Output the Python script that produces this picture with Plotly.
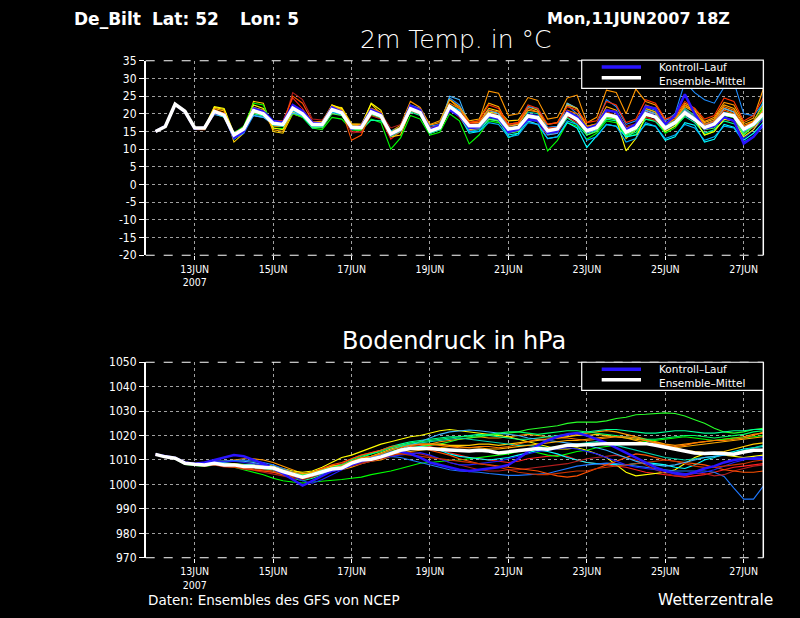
import pandas as pd
import plotly.graph_objects as go

# ---------------- data ----------------
TIMES = pd.date_range("2007-06-12 00:00", periods=63, freq="6h")
X_RANGE = ["2007-06-11 18:00", "2007-06-27 12:00"]
X_TICKS = ["2007-06-13", "2007-06-15", "2007-06-17", "2007-06-19",
           "2007-06-21", "2007-06-23", "2007-06-25", "2007-06-27"]
X_TICK_TEXT = ["13JUN<br>2007", "15JUN", "17JUN", "19JUN",
               "21JUN", "23JUN", "25JUN", "27JUN"]
T_TICKS = [-20, -15, -10, -5, 0, 5, 10, 15, 20, 25, 30, 35]
P_TICKS = [970, 980, 990, 1000, 1010, 1020, 1030, 1040, 1050]

# 2m temperature (deg C), 6-hourly from 12JUN 00Z to 27JUN 12Z
T_MEAN = [15.0, 16.4, 22.7, 20.7, 16.0, 16.0, 20.7, 19.6, 14.0, 15.7, 20.9, 20.0,
          17.3, 17.0, 21.6, 20.0, 17.0, 17.0, 21.2, 20.3, 16.1, 16.1, 20.5, 19.4,
          14.3, 15.7, 21.4, 20.3, 15.1, 16.1, 22.1, 20.0, 16.6, 16.6, 19.8, 19.1,
          15.7, 16.1, 19.4, 18.9, 15.2, 15.7, 20.0, 18.4, 15.2, 16.1, 19.8, 19.1,
          14.8, 16.1, 20.0, 19.1, 16.0, 17.5, 20.3, 18.4, 16.1, 17.1, 20.0, 19.4,
          15.7, 17.1, 20.0]
T_CTRL = [15.0, 16.5, 22.6, 20.6, 15.8, 16.1, 20.3, 19.8, 13.2, 15.0, 21.5, 20.6,
          17.8, 17.5, 22.5, 20.8, 17.5, 17.2, 21.8, 20.5, 15.8, 16.5, 21.2, 19.8,
          14.0, 15.5, 22.3, 21.0, 15.5, 16.8, 21.0, 19.5, 16.0, 16.2, 19.5, 18.6,
          14.8, 15.6, 18.4, 18.0, 14.6, 15.0, 20.6, 19.2, 15.8, 16.8, 21.0, 20.5,
          15.5, 17.0, 22.0, 21.5, 17.0, 19.5, 25.5, 20.0, 15.8, 16.5, 19.0, 18.0,
          11.6, 13.5, 17.0]
T01 = [15.0, 16.4, 22.8, 20.8, 16.1, 16.2, 21.0, 20.1, 14.3, 16.2, 21.5, 20.8,
       18.0, 18.0, 24.5, 21.5, 17.2, 17.6, 21.0, 20.0, 15.0, 14.8, 19.5, 18.5,
       12.8, 15.0, 20.8, 19.6, 16.0, 17.0, 21.5, 19.0, 15.2, 15.8, 20.5, 20.0,
       16.5, 17.2, 18.0, 17.0, 14.0, 14.5, 19.0, 17.5, 15.0, 16.4, 21.2, 20.6,
       16.0, 17.0, 19.0, 18.2, 15.5, 17.0, 20.5, 19.2, 16.8, 17.5, 21.5, 20.5,
       14.5, 16.2, 19.5]
T02 = [15.0, 16.3, 22.6, 20.6, 15.8, 15.9, 20.9, 19.8, 13.5, 15.2, 20.2, 19.5,
       16.5, 16.4, 21.0, 19.8, 17.6, 17.8, 22.5, 21.2, 16.8, 17.0, 21.6, 20.2,
       15.0, 16.8, 23.5, 21.8, 16.8, 17.5, 24.0, 21.5, 17.5, 18.0, 26.4, 25.8,
       19.5, 20.0, 24.6, 23.8, 18.5, 19.0, 24.5, 25.3, 17.5, 19.0, 26.7, 26.0,
       20.0, 27.0, 23.5, 22.5, 18.2, 19.0, 23.0, 21.5, 17.8, 19.0, 23.2, 22.5,
       17.5, 18.8, 27.0]
T03 = [15.0, 16.4, 22.7, 20.8, 16.2, 16.0, 21.8, 21.2, 12.0, 14.5, 23.5, 23.0,
       15.0, 14.5, 20.0, 19.0, 17.5, 17.8, 22.0, 21.8, 17.2, 17.0, 22.8, 20.0,
       13.5, 14.0, 21.0, 20.5, 14.5, 15.5, 21.5, 20.5, 17.0, 17.5, 21.5, 20.8,
       18.0, 18.2, 22.0, 21.0, 16.0, 16.5, 23.0, 21.5, 16.5, 17.2, 20.5, 19.5,
       13.0, 15.5, 20.8, 20.0, 17.0, 18.0, 22.5, 21.0, 16.5, 17.6, 21.5, 20.5,
       15.0, 16.5, 21.8]
T04 = [15.0, 16.3, 22.5, 20.5, 15.9, 15.8, 20.5, 19.2, 14.5, 16.5, 23.0, 22.5,
       16.0, 15.8, 20.0, 19.0, 16.0, 15.5, 19.0, 18.5, 15.5, 15.2, 18.5, 17.5,
       10.0, 13.2, 19.5, 18.5, 14.0, 14.8, 20.0, 18.0, 11.5, 14.0, 18.0, 17.5,
       15.0, 15.2, 18.5, 17.8, 9.5, 12.5, 17.5, 16.5, 12.8, 14.5, 18.0, 17.5,
       13.5, 14.2, 18.5, 18.0, 14.5, 16.0, 19.5, 18.5, 14.0, 15.0, 20.5, 20.0,
       14.2, 17.0, 22.0]
T05 = [15.0, 16.4, 22.6, 20.7, 15.8, 15.8, 20.0, 19.0, 14.8, 16.0, 20.0, 19.4,
       16.8, 16.5, 20.5, 19.2, 16.0, 16.2, 20.5, 19.6, 15.5, 15.6, 18.2, 18.0,
       15.0, 15.8, 20.5, 19.5, 14.5, 15.5, 21.0, 19.5, 16.5, 16.5, 19.0, 18.5,
       13.2, 14.5, 19.8, 19.0, 14.2, 15.0, 18.8, 17.0, 14.0, 15.2, 18.5, 18.0,
       13.8, 14.8, 18.5, 17.8, 15.0, 16.5, 19.2, 17.5, 14.5, 15.5, 18.0, 17.2,
       14.8, 17.5, 23.5]
T06 = [15.0, 16.5, 22.8, 20.8, 15.9, 16.1, 20.5, 19.5, 12.8, 14.8, 20.8, 20.0,
       17.0, 16.8, 21.2, 19.8, 16.5, 16.5, 21.0, 20.0, 16.5, 16.5, 20.0, 19.0,
       14.5, 15.5, 21.0, 20.0, 15.0, 15.8, 21.5, 19.5, 14.5, 15.0, 18.5, 18.0,
       14.0, 14.5, 18.0, 17.0, 13.0, 13.5, 17.5, 16.0, 10.5, 13.8, 17.0, 16.5,
       13.5, 14.0, 17.0, 16.5, 12.5, 13.5, 17.5, 16.8, 12.0, 12.8, 17.0, 16.2,
       12.5, 14.5, 17.5]
T07 = [15.0, 16.4, 22.7, 20.6, 16.0, 16.0, 20.2, 19.4, 13.0, 14.5, 19.5, 19.0,
       17.5, 17.2, 21.5, 20.0, 17.2, 17.5, 22.0, 21.0, 16.5, 16.6, 21.0, 19.8,
       15.2, 16.0, 22.5, 21.5, 16.5, 17.0, 24.5, 22.5, 17.0, 17.2, 21.0, 20.0,
       16.5, 17.0, 22.0, 21.5, 16.2, 16.5, 22.5, 20.0, 16.0, 17.0, 24.0, 22.0,
       17.0, 18.0, 22.0, 21.0, 18.0, 20.0, 29.0, 26.0, 24.0, 23.0, 27.5, 29.0,
       20.0, 19.5, 23.0]
T08 = [15.0, 16.4, 22.7, 20.7, 16.0, 16.2, 21.0, 19.8, 13.8, 15.3, 21.8, 21.0,
       18.2, 17.6, 22.0, 20.4, 17.0, 17.0, 21.5, 20.8, 16.0, 16.0, 20.8, 19.6,
       14.0, 15.0, 22.0, 20.8, 15.8, 16.5, 22.5, 20.8, 15.5, 15.8, 19.0, 18.5,
       14.5, 15.2, 20.0, 19.5, 15.5, 15.8, 19.5, 18.5, 15.8, 16.5, 20.0, 19.0,
       15.5, 16.5, 20.5, 19.5, 16.5, 18.0, 19.5, 18.0, 16.5, 17.5, 20.5, 19.5,
       13.0, 15.5, 18.5]
T09 = [15.0, 16.5, 22.7, 20.9, 16.1, 16.0, 20.6, 19.7, 14.2, 15.8, 20.5, 19.8,
       17.0, 16.8, 26.0, 24.0, 18.5, 18.2, 21.5, 20.5, 14.5, 15.0, 21.0, 20.0,
       16.0, 17.0, 21.5, 20.8, 15.5, 16.5, 21.0, 19.5, 17.2, 17.5, 20.5, 19.5,
       16.0, 16.5, 19.0, 18.2, 16.0, 16.2, 19.5, 18.0, 16.5, 17.0, 20.5, 19.5,
       16.5, 17.2, 19.5, 18.0, 16.2, 17.5, 21.0, 19.5, 15.5, 16.5, 18.5, 18.0,
       15.5, 16.8, 19.0]
T10 = [15.0, 16.4, 22.6, 20.7, 15.6, 15.5, 20.0, 19.5, 14.0, 16.0, 21.0, 20.5,
       17.5, 17.4, 25.0, 23.0, 17.8, 17.5, 21.8, 21.0, 12.5, 14.0, 20.5, 20.0,
       14.0, 15.5, 21.5, 20.2, 15.2, 16.0, 22.0, 20.5, 16.0, 16.5, 19.5, 18.5,
       15.5, 15.8, 19.0, 18.5, 15.8, 16.0, 20.5, 19.0, 15.5, 16.5, 20.0, 19.5,
       15.0, 16.5, 21.0, 20.0, 16.5, 17.5, 21.5, 19.5, 17.0, 18.0, 21.0, 20.0,
       16.5, 17.8, 20.5]
T11 = [15.0, 16.4, 22.7, 20.7, 16.0, 16.0, 22.0, 21.5, 14.5, 16.0, 22.5, 21.5,
       16.0, 15.5, 20.5, 19.5, 16.5, 16.5, 22.5, 21.5, 16.5, 16.5, 23.0, 21.0,
       13.8, 15.2, 22.0, 21.0, 14.8, 15.6, 21.0, 19.8, 15.5, 16.0, 20.5, 20.0,
       15.5, 16.0, 19.5, 19.0, 15.0, 15.5, 20.5, 19.0, 15.0, 15.5, 19.0, 18.5,
       9.5, 13.0, 19.5, 19.0, 15.0, 16.5, 20.0, 18.5, 14.0, 15.0, 18.5, 18.0,
       13.5, 15.5, 19.5]
T12 = [15.0, 16.4, 22.7, 20.7, 16.0, 15.9, 20.8, 19.6, 13.5, 15.5, 20.5, 19.8,
       17.2, 16.8, 21.0, 19.6, 16.0, 16.2, 21.0, 20.0, 16.8, 16.8, 20.5, 19.5,
       15.0, 16.2, 21.5, 20.5, 14.5, 15.5, 22.5, 21.0, 15.0, 15.5, 19.5, 19.0,
       15.0, 15.8, 20.5, 20.0, 14.8, 15.2, 20.5, 19.5, 15.8, 16.5, 20.0, 19.0,
       14.0, 15.5, 21.5, 20.5, 16.5, 18.0, 21.5, 19.5, 15.5, 16.5, 19.5, 19.0,
       15.5, 16.5, 19.0]
T13 = [15.0, 16.4, 22.7, 20.7, 15.9, 16.0, 19.8, 19.2, 14.2, 15.8, 19.5, 19.0,
       17.0, 16.8, 20.2, 19.5, 16.8, 16.8, 20.8, 19.8, 16.2, 16.2, 20.5, 19.5,
       14.5, 15.5, 21.0, 20.0, 15.5, 16.5, 25.0, 24.0, 16.8, 17.0, 21.0, 20.0,
       16.0, 16.5, 19.0, 18.5, 14.0, 14.5, 23.0, 21.5, 14.5, 15.5, 20.0, 19.5,
       15.0, 16.0, 21.0, 20.0, 15.5, 17.0, 21.0, 19.0, 17.0, 18.0, 21.5, 20.5,
       15.0, 16.5, 19.5]
T14 = [15.0, 16.4, 22.6, 20.6, 15.8, 15.8, 21.5, 20.8, 14.0, 15.5, 21.8, 21.0,
       15.5, 15.0, 21.0, 20.0, 17.5, 17.8, 22.2, 21.0, 17.0, 17.0, 20.8, 19.5,
       14.8, 16.2, 22.0, 21.2, 17.0, 18.0, 24.0, 22.0, 18.0, 18.5, 23.0, 22.0,
       16.5, 17.0, 21.0, 20.5, 17.0, 17.5, 22.5, 21.5, 16.5, 17.0, 22.0, 21.0,
       16.0, 17.0, 21.5, 20.5, 17.0, 18.5, 22.0, 20.5, 17.5, 18.5, 22.5, 21.5,
       17.0, 18.0, 22.5]
T15 = [15.0, 16.4, 22.7, 20.7, 15.9, 15.9, 20.3, 19.3, 13.0, 15.0, 20.5, 19.8,
       17.2, 16.8, 21.5, 19.8, 16.2, 16.0, 20.0, 19.5, 15.8, 15.5, 19.8, 18.8,
       13.5, 15.0, 21.0, 20.0, 15.0, 16.0, 22.0, 20.0, 16.0, 16.0, 18.5, 18.0,
       14.5, 15.0, 18.5, 18.0, 14.5, 15.0, 19.5, 18.5, 14.0, 15.0, 19.0, 18.5,
       14.0, 15.5, 19.5, 19.0, 16.0, 17.0, 19.5, 18.5, 15.5, 16.0, 19.5, 19.0,
       14.0, 16.5, 21.0]
T16 = [15.0, 16.4, 22.7, 20.7, 16.0, 16.1, 21.2, 20.2, 14.5, 16.0, 21.2, 20.5,
       17.8, 17.5, 22.5, 21.0, 17.5, 17.5, 21.5, 21.0, 16.5, 16.8, 21.5, 20.5,
       14.0, 16.0, 22.0, 21.5, 16.0, 16.8, 23.0, 21.5, 17.5, 17.5, 21.0, 20.5,
       17.0, 17.5, 21.5, 20.5, 15.5, 16.0, 21.0, 20.0, 16.0, 17.0, 21.0, 20.5,
       15.5, 16.5, 22.5, 21.5, 17.5, 18.5, 22.5, 20.5, 17.0, 18.0, 22.0, 21.0,
       16.5, 17.5, 21.0]
T17 = [15.0, 16.4, 22.7, 20.7, 16.0, 16.0, 20.5, 19.4, 14.0, 15.5, 20.8, 19.8,
       17.0, 16.5, 20.8, 19.5, 16.5, 16.5, 20.5, 19.8, 16.0, 16.0, 20.2, 19.0,
       14.5, 15.8, 21.2, 20.2, 14.8, 15.8, 22.0, 21.0, 15.0, 15.0, 17.5, 17.0,
       13.5, 14.0, 17.5, 17.0, 13.0, 13.5, 18.0, 17.0, 12.5, 13.5, 17.0, 16.5,
       12.0, 13.0, 17.5, 16.5, 13.0, 14.0, 17.0, 16.0, 12.5, 13.5, 16.5, 16.0,
       12.0, 13.5, 16.5]
T18 = [15.0, 16.4, 22.7, 20.7, 16.1, 16.0, 20.8, 19.8, 14.5, 16.0, 21.0, 20.2,
       17.5, 17.2, 22.0, 20.5, 17.0, 17.2, 21.5, 20.5, 16.0, 16.2, 20.8, 19.8,
       14.5, 15.5, 21.0, 20.0, 15.5, 16.2, 21.5, 20.5, 17.5, 18.0, 22.5, 21.5,
       17.0, 17.5, 22.5, 21.5, 17.0, 17.5, 22.0, 21.0, 17.5, 18.0, 23.5, 22.5,
       17.5, 18.5, 24.0, 23.0, 18.5, 19.5, 23.5, 21.5, 18.5, 19.5, 24.5, 23.5,
       18.0, 19.5, 24.5]

# surface pressure (hPa), same time steps
P_MEAN = [1012.3, 1011.3, 1010.7, 1008.7, 1008.3, 1008.0, 1008.7, 1008.0,
          1008.0, 1007.3, 1007.3, 1006.9, 1006.7, 1005.3, 1004.0, 1003.0,
          1004.0, 1005.3, 1006.3, 1006.7, 1008.7, 1010.0, 1010.3, 1011.3,
          1012.7, 1014.0, 1014.7, 1014.7, 1014.7, 1014.3, 1014.0, 1013.7,
          1013.7, 1014.0, 1013.7, 1012.9, 1013.3, 1014.0, 1014.3, 1014.7,
          1014.4, 1015.3, 1016.0, 1016.0, 1016.3, 1016.7, 1016.7, 1016.7,
          1016.7, 1016.9, 1016.7, 1016.0, 1015.3, 1014.4, 1013.7, 1012.9,
          1012.7, 1012.9, 1012.7, 1012.4, 1013.3, 1014.0, 1014.0]
P_CTRL = [1012.3, 1011.4, 1010.8, 1009.0, 1008.5, 1009.0, 1010.0, 1011.0,
          1012.0, 1011.5, 1010.0, 1008.5, 1006.5, 1004.5, 1002.0, 999.5,
          1001.5, 1003.5, 1005.5, 1006.5, 1008.0, 1009.5, 1010.5, 1011.5,
          1013.0, 1013.5, 1012.5, 1011.0, 1009.0, 1008.0, 1007.0, 1006.0,
          1005.5, 1006.0, 1006.5, 1007.0, 1008.0, 1010.5, 1013.5, 1016.0,
          1018.0, 1019.5, 1020.5, 1021.0, 1020.0, 1018.5, 1017.0, 1015.0,
          1013.0, 1011.0, 1009.0, 1007.0, 1005.5, 1004.5, 1004.0, 1005.0,
          1006.5, 1007.5, 1009.0, 1010.0, 1010.5, 1010.5, 1010.5]
P01 = [1012.3, 1011.3, 1010.6, 1008.6, 1008.2, 1007.8, 1008.2, 1007.5,
       1007.2, 1006.5, 1006.0, 1005.5, 1005.0, 1004.5, 1004.0, 1003.5,
       1004.5, 1006.0, 1007.5, 1008.5, 1010.5, 1012.0, 1013.0, 1014.0,
       1015.0, 1016.0, 1016.5, 1016.0, 1015.5, 1014.5, 1013.0, 1012.0,
       1011.0, 1010.5, 1010.0, 1009.5, 1009.0, 1009.5, 1010.5, 1011.0,
       1011.5, 1012.0, 1011.5, 1010.0, 1009.0, 1008.5, 1008.0, 1007.5,
       1007.0, 1006.0, 1005.0, 1004.5, 1004.0, 1003.5, 1003.0, 1003.5,
       1004.0, 1005.0, 1006.0, 1007.0, 1007.5, 1008.0, 1008.5]
P02 = [1012.3, 1011.2, 1010.8, 1008.8, 1008.5, 1008.5, 1009.5, 1009.5,
       1010.0, 1010.5, 1010.5, 1010.0, 1009.0, 1007.5, 1006.0, 1004.5,
       1004.0, 1004.5, 1005.5, 1006.0, 1007.0, 1008.5, 1009.5, 1010.0,
       1011.5, 1013.0, 1014.5, 1015.5, 1016.5, 1017.5, 1018.0, 1018.5,
       1019.0, 1019.5, 1019.0, 1019.0, 1019.5, 1020.0, 1020.5, 1020.0,
       1019.5, 1019.0, 1019.5, 1020.5, 1021.0, 1021.5, 1022.0, 1021.5,
       1020.5, 1019.5, 1018.5, 1017.5, 1016.5, 1016.0, 1016.5, 1017.0,
       1017.5, 1018.0, 1018.5, 1019.0, 1019.5, 1020.5, 1021.0]
P03 = [1012.3, 1011.3, 1010.7, 1008.8, 1008.3, 1008.2, 1009.0, 1008.5,
       1008.5, 1008.0, 1008.5, 1008.0, 1007.5, 1006.5, 1005.5, 1005.0,
       1005.5, 1007.0, 1009.0, 1011.0, 1012.0, 1013.5, 1015.0, 1016.5,
       1017.5, 1018.5, 1019.5, 1020.0, 1021.0, 1022.0, 1022.5, 1022.0,
       1021.5, 1021.0, 1020.5, 1020.0, 1019.5, 1018.5, 1017.5, 1016.5,
       1015.5, 1014.5, 1014.5, 1015.0, 1014.0, 1012.5, 1011.0, 1008.0,
       1005.0, 1003.5, 1004.0, 1004.5, 1005.0, 1006.0, 1008.5, 1011.0,
       1012.5, 1012.5, 1012.0, 1011.5, 1011.0, 1011.5, 1012.0]
P04 = [1012.2, 1011.2, 1010.4, 1008.2, 1007.8, 1007.4, 1008.0, 1007.5,
       1007.0, 1006.0, 1005.0, 1004.0, 1002.5, 1001.5, 1001.0, 1000.6,
       1001.0, 1001.3, 1001.5, 1002.0, 1002.5, 1003.0, 1004.0, 1004.7,
       1005.5, 1006.5, 1007.5, 1008.7, 1009.0, 1009.5, 1009.8, 1010.0,
       1010.5, 1011.0, 1011.5, 1012.0, 1012.5, 1013.5, 1014.0, 1013.0,
       1012.0, 1011.5, 1012.5, 1013.5, 1014.0, 1015.0, 1015.5, 1016.0,
       1016.5, 1017.0, 1017.5, 1018.0, 1018.5, 1019.0, 1019.5, 1019.0,
       1018.5, 1018.0, 1018.5, 1019.0, 1019.0, 1019.5, 1020.0]
P05 = [1012.3, 1011.4, 1010.9, 1009.0, 1008.6, 1008.3, 1008.8, 1008.2,
       1008.0, 1007.5, 1007.0, 1006.5, 1006.0, 1005.0, 1003.5, 1002.5,
       1003.0, 1004.5, 1006.0, 1007.0, 1009.0, 1010.5, 1011.0, 1012.0,
       1013.5, 1014.5, 1015.0, 1015.5, 1016.0, 1016.5, 1017.5, 1018.5,
       1019.0, 1019.5, 1020.0, 1020.5, 1021.0, 1021.5, 1022.5, 1023.0,
       1023.5, 1024.0, 1025.0, 1025.5, 1025.5, 1025.5, 1026.0, 1027.0,
       1027.5, 1028.5, 1028.7, 1029.0, 1029.3, 1029.0, 1028.0, 1026.5,
       1025.0, 1023.0, 1021.5, 1021.0, 1021.5, 1022.5, 1023.0]
P06 = [1012.3, 1011.3, 1010.7, 1008.7, 1008.0, 1007.8, 1008.5, 1007.8,
       1007.8, 1007.0, 1006.8, 1006.0, 1005.5, 1004.0, 1002.5, 1001.5,
       1002.5, 1004.0, 1005.5, 1007.0, 1009.5, 1011.0, 1012.5, 1014.0,
       1015.5, 1016.5, 1017.5, 1018.0, 1018.5, 1019.0, 1019.5, 1019.5,
       1020.0, 1020.5, 1020.0, 1019.5, 1019.0, 1018.5, 1018.5, 1019.0,
       1019.5, 1020.0, 1020.5, 1021.0, 1021.5, 1022.0, 1022.5, 1022.5,
       1022.0, 1021.5, 1021.0, 1021.0, 1021.5, 1022.0, 1022.0, 1021.5,
       1021.0, 1021.0, 1021.5, 1022.0, 1022.0, 1022.5, 1022.5]
P07 = [1012.3, 1011.3, 1010.7, 1008.6, 1008.3, 1008.5, 1009.0, 1008.6,
       1008.5, 1008.2, 1008.0, 1007.5, 1007.0, 1005.5, 1004.0, 1002.5,
       1003.5, 1004.5, 1005.5, 1006.5, 1008.5, 1010.0, 1010.5, 1011.5,
       1013.0, 1014.5, 1015.0, 1015.5, 1015.0, 1014.0, 1012.5, 1011.5,
       1011.0, 1010.5, 1010.0, 1010.5, 1011.0, 1012.0, 1013.0, 1014.0,
       1013.5, 1012.5, 1011.0, 1010.0, 1009.0, 1008.5, 1008.5, 1008.0,
       1008.0, 1008.5, 1009.0, 1008.5, 1008.0, 1007.0, 1006.5, 1008.0,
       1010.0, 1011.0, 1012.5, 1013.5, 1014.5, 1015.0, 1015.5]
P08 = [1012.3, 1011.3, 1010.7, 1008.8, 1008.6, 1008.8, 1009.5, 1009.5,
       1009.8, 1010.0, 1009.5, 1009.0, 1008.0, 1006.5, 1005.0, 1004.0,
       1004.0, 1005.0, 1006.0, 1007.0, 1008.0, 1009.0, 1010.0, 1011.0,
       1011.5, 1011.0, 1010.0, 1009.0, 1008.0, 1007.0, 1006.0, 1005.5,
       1005.3, 1005.0, 1004.5, 1004.0, 1003.7, 1003.7, 1004.0, 1004.0,
       1004.5, 1005.5, 1006.5, 1007.5, 1008.0, 1008.5, 1008.7, 1008.5,
       1008.0, 1007.5, 1007.0, 1006.5, 1006.0, 1005.5, 1005.5, 1005.5,
       1005.5, 1005.0, 1003.3, 998.5, 994.0, 994.0, 999.3]
P09 = [1012.3, 1011.3, 1010.6, 1008.6, 1008.0, 1007.6, 1008.0, 1007.2,
       1007.0, 1006.2, 1005.8, 1005.0, 1004.5, 1003.5, 1002.5, 1002.0,
       1003.0, 1004.5, 1006.0, 1006.5, 1007.5, 1008.5, 1009.5, 1010.5,
       1011.5, 1012.5, 1013.0, 1012.5, 1011.5, 1010.5, 1009.0, 1008.0,
       1007.0, 1006.0, 1005.5, 1005.5, 1006.0, 1006.0, 1006.5, 1007.0,
       1007.5, 1008.0, 1008.5, 1009.5, 1010.5, 1011.0, 1011.5, 1012.0,
       1011.0, 1010.0, 1008.0, 1006.0, 1004.5, 1003.5, 1003.5, 1004.5,
       1004.5, 1003.5, 1004.0, 1005.5, 1006.5, 1007.5, 1008.0]
P10 = [1012.3, 1011.3, 1010.7, 1008.7, 1008.1, 1007.6, 1008.2, 1007.4,
       1007.2, 1006.5, 1006.0, 1005.5, 1005.0, 1004.0, 1003.0, 1003.5,
       1005.0, 1006.5, 1008.0, 1009.0, 1010.5, 1012.0, 1013.0, 1014.0,
       1015.5, 1016.0, 1015.5, 1015.0, 1014.0, 1013.0, 1012.0, 1010.5,
       1009.5, 1008.5, 1008.0, 1007.5, 1007.0, 1006.5, 1006.0, 1005.5,
       1004.5, 1003.5, 1003.0, 1003.5, 1005.0, 1006.5, 1008.0, 1009.5,
       1011.0, 1012.5, 1012.0, 1011.0, 1010.0, 1009.5, 1009.0, 1008.5,
       1008.0, 1007.0, 1006.0, 1005.5, 1005.0, 1005.0, 1005.5]
P11 = [1012.3, 1011.3, 1010.7, 1008.7, 1008.4, 1008.0, 1008.8, 1008.0,
       1008.2, 1007.8, 1007.5, 1007.0, 1006.5, 1005.5, 1004.5, 1004.0,
       1005.0, 1006.0, 1007.5, 1008.0, 1009.5, 1010.5, 1011.5, 1013.0,
       1014.5, 1015.5, 1016.0, 1016.5, 1016.5, 1016.5, 1016.0, 1016.0,
       1016.0, 1016.5, 1016.5, 1016.0, 1016.5, 1017.0, 1017.5, 1018.0,
       1018.5, 1019.0, 1019.5, 1020.0, 1020.0, 1020.5, 1020.0, 1019.5,
       1019.0, 1018.5, 1018.0, 1017.0, 1016.0, 1015.0, 1014.0, 1013.5,
       1013.0, 1013.0, 1013.5, 1014.5, 1015.5, 1016.5, 1017.0]
P12 = [1012.3, 1011.3, 1010.7, 1008.7, 1008.2, 1007.9, 1008.6, 1007.9,
       1007.8, 1007.2, 1007.0, 1006.6, 1006.2, 1005.0, 1003.8, 1002.8,
       1003.5, 1004.8, 1006.0, 1006.5, 1008.5, 1010.0, 1011.0, 1012.5,
       1014.0, 1015.5, 1016.5, 1017.0, 1017.5, 1018.0, 1018.5, 1019.0,
       1018.5, 1018.0, 1017.5, 1017.0, 1016.5, 1016.0, 1016.0, 1015.5,
       1015.0, 1015.5, 1016.0, 1016.5, 1017.0, 1017.5, 1017.0, 1016.0,
       1015.0, 1014.0, 1013.0, 1012.0, 1011.0, 1010.5, 1010.0, 1010.5,
       1011.0, 1011.5, 1012.0, 1013.0, 1014.0, 1015.0, 1016.0]
P13 = [1012.3, 1011.3, 1010.7, 1008.8, 1008.5, 1008.6, 1009.2, 1009.0,
       1009.5, 1009.5, 1009.0, 1008.0, 1007.0, 1005.5, 1004.5, 1003.5,
       1003.5, 1004.5, 1005.5, 1006.5, 1008.0, 1009.5, 1011.0, 1012.0,
       1013.0, 1014.5, 1016.0, 1017.5, 1019.0, 1020.5, 1021.5, 1022.0,
       1022.3, 1022.0, 1021.5, 1021.0, 1020.5, 1020.0, 1019.0, 1018.5,
       1018.0, 1017.5, 1017.0, 1016.5, 1016.0, 1015.0, 1014.0, 1012.5,
       1011.0, 1009.5, 1008.5, 1008.0, 1007.5, 1008.0, 1009.0, 1010.0,
       1011.0, 1011.5, 1012.0, 1012.5, 1013.0, 1013.5, 1014.0]
P14 = [1012.3, 1011.3, 1010.7, 1008.7, 1008.3, 1008.1, 1008.9, 1008.3,
       1008.4, 1007.9, 1007.8, 1007.5, 1007.0, 1006.0, 1005.0, 1004.5,
       1005.0, 1006.0, 1007.0, 1007.5, 1008.5, 1009.5, 1010.0, 1011.0,
       1012.0, 1013.0, 1013.5, 1014.0, 1014.5, 1015.0, 1015.5, 1015.5,
       1015.0, 1015.0, 1014.5, 1014.5, 1015.0, 1015.5, 1016.0, 1016.5,
       1017.0, 1017.5, 1018.0, 1018.0, 1018.5, 1019.0, 1019.5, 1019.5,
       1019.0, 1018.0, 1017.0, 1016.0, 1015.5, 1015.0, 1015.5, 1016.0,
       1016.5, 1017.0, 1017.5, 1018.0, 1018.5, 1019.0, 1019.5]
P15 = [1012.3, 1011.3, 1010.7, 1008.7, 1008.4, 1008.2, 1008.8, 1008.3,
       1008.2, 1007.6, 1007.4, 1007.0, 1006.8, 1005.8, 1004.5, 1003.8,
       1004.5, 1005.8, 1007.0, 1008.0, 1010.0, 1011.5, 1012.5, 1013.5,
       1015.0, 1016.0, 1017.0, 1017.5, 1018.0, 1018.5, 1019.0, 1019.5,
       1019.5, 1020.0, 1020.5, 1021.0, 1021.5, 1021.5, 1021.0, 1020.5,
       1021.0, 1021.5, 1022.0, 1022.0, 1021.5, 1021.0, 1020.5, 1020.0,
       1019.5, 1019.0, 1018.5, 1018.5, 1019.0, 1019.5, 1020.0, 1020.0,
       1019.5, 1019.0, 1019.5, 1020.0, 1020.5, 1021.5, 1022.0]
P16 = [1012.3, 1011.3, 1010.7, 1008.7, 1008.6, 1008.8, 1009.6, 1009.3,
       1009.5, 1009.0, 1008.5, 1008.0, 1007.0, 1005.5, 1003.5, 1001.5,
       1000.5, 1002.0, 1004.0, 1006.0, 1008.0, 1009.5, 1010.5, 1011.0,
       1011.5, 1012.0, 1012.5, 1013.0, 1012.0, 1010.5, 1009.0, 1008.0,
       1008.0, 1008.5, 1009.0, 1009.5, 1010.5, 1011.5, 1012.5, 1013.5,
       1014.0, 1014.5, 1015.0, 1014.5, 1013.5, 1012.5, 1011.0, 1009.5,
       1008.0, 1007.0, 1006.5, 1006.0, 1005.5, 1005.0, 1004.5, 1004.5,
       1005.0, 1006.0, 1007.5, 1009.0, 1010.0, 1011.0, 1011.5]
P17 = [1012.3, 1011.3, 1010.7, 1008.7, 1008.3, 1008.0, 1008.6, 1008.0,
       1008.0, 1007.5, 1007.5, 1007.0, 1006.5, 1005.0, 1003.5, 1002.5,
       1003.5, 1005.0, 1006.5, 1007.5, 1009.5, 1011.0, 1011.5, 1012.5,
       1014.0, 1015.0, 1016.0, 1016.5, 1016.5, 1016.0, 1015.5, 1015.0,
       1015.0, 1015.5, 1015.5, 1015.0, 1015.5, 1016.5, 1017.5, 1018.5,
       1018.5, 1019.0, 1019.0, 1018.5, 1018.0, 1018.5, 1019.0, 1019.5,
       1019.5, 1019.0, 1018.0, 1017.0, 1016.0, 1015.5, 1016.0, 1017.0,
       1017.5, 1018.0, 1018.0, 1018.5, 1019.0, 1020.0, 1021.5]
P18 = [1012.3, 1011.3, 1010.7, 1008.7, 1008.2, 1007.8, 1008.4, 1007.6,
       1007.4, 1006.8, 1006.4, 1006.0, 1005.5, 1004.5, 1003.5, 1003.0,
       1004.0, 1005.0, 1006.0, 1006.5, 1008.0, 1009.0, 1010.0, 1011.0,
       1012.0, 1012.5, 1012.0, 1011.5, 1011.0, 1010.5, 1010.0, 1009.5,
       1009.0, 1008.5, 1008.0, 1007.0, 1006.0, 1005.0, 1004.5, 1004.0,
       1004.0, 1004.5, 1005.0, 1005.5, 1005.5, 1006.5, 1007.0, 1007.5,
       1008.0, 1008.5, 1009.0, 1009.5, 1010.0, 1009.5, 1008.5, 1007.5,
       1007.0, 1007.0, 1007.5, 1008.0, 1008.5, 1009.5, 1010.0]

TEMP_MEMBERS = [T01, T02, T03, T04, T05, T06, T07, T08, T09,
                T10, T11, T12, T13, T14, T15, T16, T17, T18]
PRES_MEMBERS = [P01, P02, P03, P04, P05, P06, P07, P08, P09,
                P10, P11, P12, P13, P14, P15, P16, P17, P18]

# ---------------- styles ----------------
TEMP_COLORS = ["#ff1e1e", "#ff9600", "#ffd200", "#00ff00", "#00ff96", "#00ffff",
               "#1e8cff", "#1e1eff", "#b41e1e", "#ff5000", "#ffff00", "#00d2aa",
               "#3cb4ff", "#ffaa00", "#50ff50", "#ff7800", "#00b4ff", "#ff3200"]
PRES_COLORS = ["#ff1e1e", "#ff9600", "#ffff00", "#00ff00", "#28ff28", "#00ff96",
               "#00ffff", "#1e78ff", "#b41e1e", "#ff5000", "#ffc800", "#00d2aa",
               "#3cb4ff", "#ffaa00", "#00ff64", "#1e1eff", "#ff7800", "#c83200"]
CTRL_COLOR = "#2a14ff"
MEAN_COLOR = "#ffffff"
GRID = "#a0a0a0"
FONT = "DejaVu Sans Condensed"
FONT_W = "DejaVu Sans"
W, H = 800, 618

for s in TEMP_MEMBERS + PRES_MEMBERS + [T_MEAN, T_CTRL, P_MEAN, P_CTRL]:
    assert len(s) == len(TIMES), len(s)


def px(x):
    return x / W


def py(y):
    return 1 - y / H


fig = go.Figure()
for vals, col in zip(TEMP_MEMBERS, TEMP_COLORS):
    fig.add_trace(go.Scatter(x=TIMES, y=vals, mode="lines", xaxis="x", yaxis="y",
                             line=dict(color=col, width=1.1), hoverinfo="skip", showlegend=False))
fig.add_trace(go.Scatter(x=TIMES, y=T_CTRL, mode="lines", xaxis="x", yaxis="y",
                         line=dict(color=CTRL_COLOR, width=2.5), showlegend=False))
fig.add_trace(go.Scatter(x=TIMES, y=T_MEAN, mode="lines", xaxis="x", yaxis="y",
                         line=dict(color=MEAN_COLOR, width=3.5), showlegend=False))
for vals, col in zip(PRES_MEMBERS, PRES_COLORS):
    fig.add_trace(go.Scatter(x=TIMES, y=vals, mode="lines", xaxis="x2", yaxis="y2",
                             line=dict(color=col, width=1.1), hoverinfo="skip", showlegend=False))
fig.add_trace(go.Scatter(x=TIMES, y=P_CTRL, mode="lines", xaxis="x2", yaxis="y2",
                         line=dict(color=CTRL_COLOR, width=2.5), showlegend=False))
fig.add_trace(go.Scatter(x=TIMES, y=P_MEAN, mode="lines", xaxis="x2", yaxis="y2",
                         line=dict(color=MEAN_COLOR, width=3.5), showlegend=False))

XDOM = [px(145.7), px(763.3)]
xcommon = dict(domain=XDOM, range=X_RANGE, type="date", tickmode="array",
               tickvals=X_TICKS, ticktext=X_TICK_TEXT, showgrid=True, gridcolor=GRID,
               griddash="dot", gridwidth=1, ticks="outside", ticklen=4, tickcolor="white",
               tickfont=dict(family=FONT, size=10.5, color="white"), showline=False,
               zeroline=False)
ycommon = dict(showgrid=True, gridcolor=GRID, griddash="dot", gridwidth=1,
               ticks="outside", ticklen=5, tickcolor="white", showline=True,
               linecolor="white", linewidth=1.5, zeroline=False,
               tickfont=dict(family=FONT, size=12, color="white"))

fig.update_layout(
    width=W, height=H, autosize=False,
    margin=dict(l=0, r=0, t=0, b=0),
    paper_bgcolor="black", plot_bgcolor="black",
    showlegend=False,
    xaxis=dict(anchor="y", **xcommon),
    yaxis=dict(anchor="x", domain=[py(254), py(55)], range=[-20, 35],
               tickmode="array", tickvals=T_TICKS, ticktext=[str(v) for v in T_TICKS],
               **ycommon),
    xaxis2=dict(anchor="y2", **xcommon),
    yaxis2=dict(anchor="x2", domain=[py(563.5), py(363.5)], range=[970, 1050],
                tickmode="array", tickvals=P_TICKS, ticktext=[str(v) for v in P_TICKS],
                **ycommon),
)

LEGENDS = [("x domain", "y domain", 61.5, 72.3, (54.3, 83.3)),
           ("x2 domain", "y2 domain", 370.7, 381.5, (363.5, 392.3))]
shapes = []
for xr, yr, ly0, ly1, box in LEGENDS:
    # frame: dashed top/bottom, solid right
    shapes.append(dict(type="line", xref=xr, yref=yr, x0=0, x1=1, y0=1, y1=1,
                       line=dict(color="white", width=1, dash="dash")))
    shapes.append(dict(type="line", xref=xr, yref=yr, x0=0, x1=1, y0=0, y1=0,
                       line=dict(color="white", width=1, dash="dash")))
    shapes.append(dict(type="line", xref=xr, yref=yr, x0=1, x1=1, y0=0, y1=1,
                       line=dict(color="white", width=1.5)))
    # legend box
    shapes.append(dict(type="rect", xref="paper", yref="paper", x0=px(581.7), x1=px(763.3),
                       y0=py(box[1]), y1=py(box[0]), fillcolor="black",
                       line=dict(color="white", width=1.2), layer="above"))
    shapes.append(dict(type="line", xref="paper", yref="paper", x0=px(601.7), x1=px(641),
                       y0=py(ly0), y1=py(ly0), line=dict(color=CTRL_COLOR, width=3.5),
                       layer="above"))
    shapes.append(dict(type="line", xref="paper", yref="paper", x0=px(601.7), x1=px(641),
                       y0=py(ly1), y1=py(ly1), line=dict(color=MEAN_COLOR, width=3.5),
                       layer="above"))
fig.update_layout(shapes=shapes)

ann = []


def text(x, y, s, size, anchor="left", weight="normal", family=FONT_W):
    ann.append(dict(x=px(x), y=py(y), xref="paper", yref="paper", text=s, showarrow=False,
                    xanchor=anchor, yanchor="middle", align="left",
                    font=dict(family=family, size=size, color="white", weight=weight)))


text(72, 12, "De_Bilt", 17, weight="bold")
text(150, 12, "Lat: 52", 17, weight="bold")
text(238, 12, "Lon: 5", 17, weight="bold")
text(545, 12, "Mon,11JUN2007 18Z", 16, weight="bold")
text(455, 33, "2m Temp. in °C", 25, anchor="center", weight=200)
text(454, 342, "Bodendruck in hPa", 24, anchor="center")
text(146, 607, "Daten: Ensembles des GFS von NCEP", 13.5)
text(775, 607, "Wetterzentrale", 15.5, anchor="right")
for _, _, ly0, ly1, box in LEGENDS:
    text(657, (box[0] + box[1]) / 2, "Kontroll–Lauf<br>Ensemble–Mittel", 10.5)
fig.update_layout(annotations=ann)

fig.write_html("out.html", config={"displayModeBar": False},
               post_script="document.body.style.margin='0';"
                           "document.body.style.background='black';")
